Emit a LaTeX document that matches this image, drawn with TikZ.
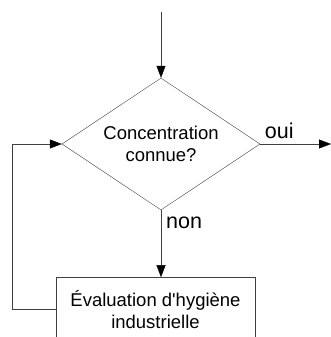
\documentclass[tikz,border=0pt]{standalone}
\usepackage{fontspec}
\setmainfont{Liberation Sans}
\usetikzlibrary{shapes.geometric,arrows.meta,positioning}
\colorlet{linegray}{black!75}
\begin{document}
\begin{tikzpicture}[x=1pt,y=-1pt,
				every node/.style={font=\fontsize{18.5}{22}\selectfont},
				decision/.style={diamond,aspect=1.5,draw=linegray,minimum width=198pt,minimum height=132pt,inner sep=0pt,align=center},
				process/.style={rectangle,draw=linegray,minimum width=199pt,minimum height=64pt,align=center},
				answer/.style={font=\fontsize{21.5}{24}\selectfont,inner sep=5pt},
				flow/.style={draw=linegray,-{Triangle[length=12pt,width=9pt,color=black]}}]
\clip (0,0) rectangle (331,337);
\useasboundingbox (0,0) rectangle (331,337);
\node[decision] (dec) at (161,144) {Concentration\\connue?};
\node[process,below=67pt of dec,xshift=-5.5pt] (eval) {\'Evaluation d\textquotesingle hygi\`ene\\industrielle};
\coordinate (start) at (161,12);
\coordinate (out) at (331,144);
\draw[flow] (start) -- (dec.north);
\draw[flow] (dec.east) -- node[answer,above,pos=0.27] (oui) {oui} (out);
\draw[flow] (dec.south) -- node[answer,right,pos=0.19] (non) {non} (dec.south |- eval.north);
\draw[flow] (eval.west) -- ++(-44,0) |- (dec.west);
\end{tikzpicture}
\end{document}
